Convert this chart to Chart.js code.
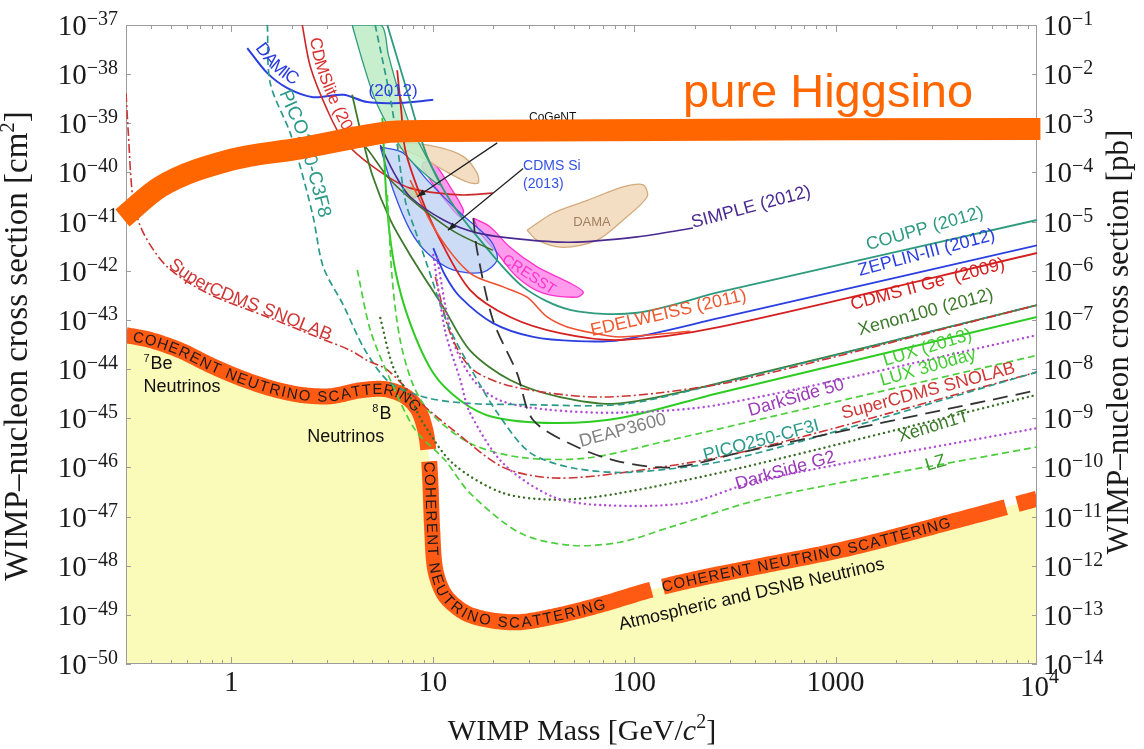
<!DOCTYPE html>
<html>
<head>
<meta charset="utf-8">
<title>WIMP-nucleon limits</title>
<script src="https://cdn.jsdelivr.net/npm/chart.js@4.4.1/dist/chart.umd.min.js"></script>
<style>
  body { margin: 0; background: #fff; }
  canvas { display: block; }
</style>
</head>
<body>
<canvas id="limits_chart" width="1144" height="749"></canvas>
<script>
var SERIF = '"Liberation Serif", "Times New Roman", serif';
var SANS = '"Liberation Sans", Arial, sans-serif';

// mass in GeV/c^2, cross section in cm^2

var higgsinoMass  = [0.288, 0.444, 0.99, 2.2, 4.9, 6.16, 10, 10400];
var higgsinoSigma = [1.18e-41, 5.1e-41, 1.8e-40, 3.1e-40, 5.8e-40, 6.7e-40, 7.0e-40, 7.7e-40];

var floorMass  = [0.30, 0.397, 0.558, 0.787, 1.108, 1.56, 2.2, 3.1, 4.37, 5.81, 7.3, 8.46, 9.18, 9.5, 9.72, 9.94, 10.3, 11.5, 14.5, 19.3, 27.2, 42.9, 67.9, 120, 213, 422, 1180, 3700, 10000];
var floorSigma = [4.9e-44, 3.9e-44, 2.4e-44, 1.2e-44, 6.6e-45, 4.1e-45, 3.0e-45, 2.8e-45, 3.7e-45, 3.9e-45, 2.8e-45, 1.5e-45, 5.8e-46, 2.3e-46, 5.5e-47, 5.3e-48, 8.2e-49, 2.5e-49, 1.1e-49, 7.8e-50, 7.1e-50, 9.9e-50, 1.6e-49, 3.2e-49, 5.6e-49, 9.8e-49, 2.3e-48, 7.7e-48, 2.3e-47];

var couppMass  = [5.95, 7.46, 9.39, 12.2, 17.2, 28.1, 48.1, 103.5, 267, 10000];
var couppSigma = [1e-37, 4.5e-39, 2.1e-40, 2.7e-41, 4.2e-42, 4.7e-43, 1.6e-43, 1.4e-43, 3.7e-43, 1.08e-41];

var zeplinMass  = [10.06, 11.5, 13.7, 19.9, 31.5, 52.1, 85.2, 267, 10000];
var zeplinSigma = [2.9e-42, 8.2e-43, 2.9e-43, 8.6e-44, 4.5e-44, 3.7e-44, 3.9e-44, 1.1e-43, 3.3e-42];

var cdmsGeMass  = [6.66, 6.97, 7.30, 8.66, 10.9, 15.3, 24.2, 42.9, 85.2, 267, 10000];
var cdmsGeSigma = [1.2e-38, 1.9e-39, 2.9e-40, 3.5e-41, 4.2e-42, 4.1e-43, 1.15e-43, 5.4e-44, 3.9e-44, 7.2e-44, 2.3e-42];

var edelweissMass  = [7.72, 10.5, 15.3, 22.4, 29.4, 37.0, 46.5, 62.7, 85.2, 190];
var edelweissSigma = [7.0e-41, 5.9e-42, 9.0e-43, 4.7e-43, 2.9e-43, 1.15e-43, 7.2e-44, 5.4e-44, 4.5e-44, 5.9e-44];

var xenon100Mass  = [3.98, 4.37, 5.01, 6.16, 7.72, 11.3, 15.3, 24.2, 42.9, 85.2, 336, 10000];
var xenon100Sigma = [3.8e-39, 7.3e-40, 8.9e-41, 1.08e-41, 2.1e-42, 1.8e-43, 2.4e-44, 6.0e-45, 2.7e-45, 2.0e-45, 6.6e-45, 2.0e-43];

var luxMass  = [5.62, 5.95, 6.51, 7.72, 10.06, 13.7, 19.9, 39.7, 85.2, 267, 10000];
var luxSigma = [1.3e-39, 1.7e-41, 1.04e-42, 8.6e-44, 8.3e-45, 2.3e-45, 1.06e-45, 8.0e-46, 1.01e-45, 3.3e-45, 1.15e-43];

var darkSide50Mass  = [10.5, 12.6, 15.9, 21.6, 37.0, 85.2, 267, 10000];
var darkSide50Sigma = [1.8e-42, 3.9e-44, 6.0e-45, 2.3e-45, 1.5e-45, 1.3e-45, 1.9e-45, 4.9e-44];

var lux300Mass  = [5.95, 6.30, 6.89, 8.0, 9.72, 15.3, 27.2, 58.5, 151, 473, 10000];
var lux300Sigma = [3.5e-41, 6.5e-43, 3.9e-44, 4.7e-45, 1.3e-45, 3.1e-46, 1.6e-46, 1.55e-46, 3.6e-46, 1.06e-45, 1.9e-44];

var superCdmsMass  = [0.30, 0.308, 0.326, 0.366, 0.481, 0.761, 1.51, 2.67, 3.90, 4.73, 5.95, 8.66, 12.6, 22.4, 39.7, 85.2, 336, 10000];
var superCdmsSigma = [4.1e-39, 6.4e-40, 2.7e-41, 5.9e-42, 1.2e-42, 3.5e-43, 1.15e-43, 4.5e-44, 2.4e-44, 1.5e-44, 9.6e-45, 2.1e-45, 5.8e-46, 1.0e-46, 6.1e-47, 7.7e-47, 2.0e-46, 8.7e-45];

var superCdmsGeMass  = [10.3, 12.2, 15.3, 21.6, 37.0, 67.9, 135, 336, 10000];
var superCdmsGeSigma = [7.5e-43, 5.4e-44, 1.1e-44, 5.2e-45, 3.3e-45, 2.7e-45, 3.3e-45, 6.0e-45, 2.0e-43];

var picoC3F8Mass  = [1.51, 1.56, 1.96, 2.20, 2.55, 2.86, 3.60, 4.62, 6.16, 9.39, 15.3, 27.2, 85.2, 213, 10000];
var picoC3F8Sigma = [1e-37, 6.6e-39, 6.4e-40, 1.3e-40, 1.24e-41, 1.2e-42, 2.0e-43, 2.4e-44, 5.2e-45, 2.6e-45, 2.0e-45, 1.9e-45, 1.9e-45, 4.1e-45, 2.0e-43];

var picoCF3IMass  = [5.18, 6.30, 7.30, 8.18, 9.39, 11.8, 15.3, 20.9, 30.4, 49.8, 99, 336, 10000];
var picoCF3ISigma = [1e-37, 1.9e-39, 2.7e-41, 6.7e-42, 1.3e-42, 8.6e-44, 1.1e-44, 1.3e-45, 2.0e-46, 9.7e-47, 8.0e-47, 1.6e-46, 8.7e-45];

var deapMass  = [15.9, 16.6, 19.9, 26.2, 31.5, 52.1, 85.2, 156, 336, 10000];
var deapSigma = [1.18e-41, 2.6e-42, 1.0e-43, 8.3e-45, 9.2e-46, 2.6e-46, 1.3e-46, 1.0e-46, 2.0e-46, 3.7e-45];

var xenon1TMass  = [5.49, 6.36, 7.72, 8.96, 12.6, 22.4, 42.9, 85.2, 336, 10000];
var xenon1TSigma = [1.1e-43, 1.1e-44, 2.7e-45, 8.0e-46, 1.2e-46, 3.0e-47, 2.2e-47, 3.0e-47, 9.7e-47, 3.0e-45];

var darkSideG2Mass  = [10.06, 11.5, 13.7, 15.3, 22.4, 39.7, 70.3, 183, 422, 10000];
var darkSideG2Sigma = [2.1e-42, 6.2e-44, 6.0e-45, 1.3e-45, 1.2e-46, 2.5e-47, 1.7e-47, 1.9e-47, 5.5e-47, 6.3e-46];

var lzMass  = [4.22, 4.90, 6.16, 8.18, 11.5, 15.3, 27.2, 48.1, 85.2, 151, 473, 10000];
var lzSigma = [1.04e-42, 6.2e-44, 6.0e-45, 5.8e-46, 1.41e-46, 3.0e-47, 4.6e-48, 2.6e-48, 3.0e-48, 6.1e-48, 2.5e-47, 2.6e-46];

var simpleMass  = [5.49, 6.51, 7.72, 11.3, 16.6, 27.2, 48.1, 103.5, 196];
var simpleSigma = [3.6e-40, 8.9e-41, 3.2e-41, 1.08e-41, 5.9e-42, 4.4e-42, 3.8e-42, 4.9e-42, 7.4e-42];

var damicMass  = [1.20, 1.51, 1.90, 2.55, 3.60, 4.73, 6.89, 10.06];
var damicSigma = [3.4e-38, 1.05e-38, 5.2e-39, 3.4e-39, 3.8e-39, 2.7e-39, 2.6e-39, 3.0e-39];

var cdmsliteMass  = [2.25, 2.47, 2.99, 3.60, 5.07, 7.72, 13.7, 19.9];
var cdmsliteSigma = [1e-37, 1.4e-38, 1.9e-39, 4.6e-40, 1.3e-40, 4.8e-41, 3.5e-41, 3.8e-41];

var cogentLimitMass  = [4.37, 4.90, 6.16, 8.66, 12.9, 19.9];
var cogentLimitSigma = [4.6e-40, 2.5e-40, 7.0e-41, 2.0e-41, 6.1e-42, 2.6e-42];

// closed signal regions
var greenBandMass  = [3.98, 4.47, 5.18, 6.16, 7.72, 10.9, 9.18, 7.72, 6.73, 6.02, 5.55, 3.98];
var greenBandSigma = [1e-37, 1.9e-38, 3.0e-39, 7.3e-40, 1.8e-40, 5.6e-41, 2.3e-40, 9.2e-40, 4.8e-39, 2.5e-38, 1e-37, 1e-37];

var damaLowMass  = [6.66, 7.13, 10.5, 14.2, 16.6, 16.8, 14.8, 11.3, 8.66, 6.66];
var damaLowSigma = [3.3e-40, 4.0e-40, 3.3e-40, 2.1e-40, 9.7e-41, 6.1e-41, 6.4e-41, 1.12e-40, 2.1e-40, 3.3e-40];

var damaHighMass  = [29.4, 39.7, 58.5, 88.2, 110.8, 116, 88.2, 65.6, 44.4, 33.0, 29.4];
var damaHighSigma = [6.7e-42, 1.5e-41, 2.7e-41, 5.1e-41, 5.6e-41, 3.2e-41, 1.08e-41, 4.2e-42, 3.0e-42, 4.2e-42, 6.7e-42];

var cresstUpperMass  = [8.96, 10.06, 12.2, 14.2, 13.7, 11.8, 9.72, 8.87, 8.96];
var cresstUpperSigma = [1.6e-40, 1.6e-40, 5.1e-41, 1.7e-41, 1.24e-41, 2.4e-41, 7.0e-41, 1.3e-40, 1.6e-40];

var cresstLowerMass  = [15.9, 19.3, 24.2, 33.0, 48.1, 55.9, 52.1, 35.3, 26.2, 20.9, 17.2, 15.9];
var cresstLowerSigma = [1.18e-41, 7.8e-42, 3.0e-42, 1.2e-42, 5.6e-43, 3.7e-43, 2.9e-43, 3.5e-43, 7.5e-43, 2.3e-42, 5.9e-42, 1.18e-41];

var cdmsSiMass  = [5.49, 6.36, 7.72, 9.39, 12.6, 17.8, 20.9, 19.3, 13.7, 9.39, 7.13, 5.49];
var cdmsSiSigma = [3.3e-40, 4.4e-41, 6.7e-42, 2.3e-42, 1.04e-42, 9.4e-43, 1.7e-42, 4.2e-42, 1.5e-41, 7.0e-41, 2.5e-40, 3.3e-40];

var cogentSpotMass  = [7.13, 7.93, 8.56, 7.93, 7.13];
var cogentSpotSigma = [4.4e-41, 5.1e-41, 3.8e-41, 3.0e-41, 4.4e-41];

// pointer arrows (tail, head)
var cogentArrowMass  = [20.9, 8.37];
var cogentArrowSigma = [4.0e-40, 3.2e-41];
var cdmsSiArrowMass  = [28.1, 11.9];
var cdmsSiArrowSigma = [1.2e-40, 6.7e-42];

var leftExponents  = [-37, -38, -39, -40, -41, -42, -43, -44, -45, -46, -47, -48, -49, -50];
var rightExponents = [-1, -2, -3, -4, -5, -6, -7, -8, -9, -10, -11, -12, -13, -14];
var massTicks = [1, 10, 100, 1000];

function pairs(m, s) {
  return m.map(function (v, i) { return { x: v, y: s[i] }; });
}

var DOTS = { width: 2.4, dash: [0.1, 5], cap: 'round' };
var DASH = { width: 1.7, dash: [7, 4] };
var DASHDOT = { width: 1.6, dash: [9, 3, 2, 3] };

function limitLine(label, m, s, colour, style) {
  style = style || {};
  return {
    label: label, data: pairs(m, s), borderColor: colour,
    borderWidth: style.width || 1.6, borderDash: style.dash || [],
    borderCapStyle: style.cap || 'butt', pointRadius: 0, fill: false,
    tension: 0.3, order: 5
  };
}

function region(label, m, s, line, inside) {
  return {
    label: label, data: pairs(m, s), borderColor: line, backgroundColor: inside,
    borderWidth: 1.3, pointRadius: 0, fill: 'shape', tension: 0.3, order: 7
  };
}

var datasets = [
  {
    label: 'neutrino floor', data: pairs(floorMass, floorSigma), borderWidth: 0,
    borderColor: 'rgba(0,0,0,0)', backgroundColor: '#fafab9', fill: 'start',
    pointRadius: 0, tension: 0.3, order: 10
  },
  region('green band', greenBandMass, greenBandSigma, '#2e9a7e', 'rgba(190,236,196,0.85)'),
  region('DAMA', damaLowMass, damaLowSigma, '#d2aa7c', 'rgba(243,220,192,0.95)'),
  region('DAMA high', damaHighMass, damaHighSigma, '#d2aa7c', 'rgba(243,220,192,0.95)'),
  region('CDMS Si', cdmsSiMass, cdmsSiSigma, '#3350e6', 'rgba(170,196,240,0.6)'),
  region('CRESST', cresstUpperMass, cresstUpperSigma, '#ff33cc', 'rgba(255,120,230,0.75)'),
  region('CRESST low', cresstLowerMass, cresstLowerSigma, '#ff33cc', 'rgba(255,120,230,0.75)'),
  region('CoGeNT', cogentSpotMass, cogentSpotSigma, '#e0c020', 'rgba(245,230,60,0.9)'),
  limitLine('LZ', lzMass, lzSigma, '#4ccf3c', DASH),
  limitLine('DarkSide G2', darkSideG2Mass, darkSideG2Sigma, '#b04cd6', DOTS),
  limitLine('Xenon1T', xenon1TMass, xenon1TSigma, '#3a6e26', DOTS),
  limitLine('DEAP3600', deapMass, deapSigma, '#333333', { width: 1.8, dash: [15, 8] }),
  limitLine('PICO250-CF3I', picoCF3IMass, picoCF3ISigma, '#2a9a8a', DASH),
  limitLine('SuperCDMS SNOLAB', superCdmsMass, superCdmsSigma, '#cc3333', DASHDOT),
  limitLine('SuperCDMS SNOLAB Ge', superCdmsGeMass, superCdmsGeSigma, '#cc3333', DASHDOT),
  limitLine('PICO250-C3F8', picoC3F8Mass, picoC3F8Sigma, '#2a9a8a', DASH),
  limitLine('LUX 300day', lux300Mass, lux300Sigma, '#4ccf3c', DASH),
  limitLine('DarkSide 50', darkSide50Mass, darkSide50Sigma, '#b04cd6', DOTS),
  limitLine('LUX (2013)', luxMass, luxSigma, '#2ecc22', { width: 2 }),
  limitLine('Xenon100 (2012)', xenon100Mass, xenon100Sigma, '#3d7a2b', { width: 1.8 }),
  limitLine('CoGeNT limit', cogentLimitMass, cogentLimitSigma, '#3d6e2a'),
  limitLine('SIMPLE (2012)', simpleMass, simpleSigma, '#4a2a92'),
  limitLine('EDELWEISS (2011)', edelweissMass, edelweissSigma, '#f05030'),
  limitLine('CDMS II Ge (2009)', cdmsGeMass, cdmsGeSigma, '#d42020', { width: 1.8 }),
  limitLine('ZEPLIN-III (2012)', zeplinMass, zeplinSigma, '#2b3fe0', { width: 1.8 }),
  limitLine('COUPP (2012)', couppMass, couppSigma, '#2e9a7e', { width: 1.8 }),
  limitLine('CDMSlite (2013)', cdmsliteMass, cdmsliteSigma, '#cc2a2a'),
  limitLine('DAMIC (2012)', damicMass, damicSigma, '#2b3fe0', { width: 2 }),
  {
    label: 'pure Higgsino', data: pairs(higgsinoMass, higgsinoSigma), borderColor: '#ff6600',
    borderWidth: 22, borderCapStyle: 'butt', pointRadius: 0, fill: false,
    cubicInterpolationMode: 'monotone', clip: false, order: 0
  }
];

// text along the neutrino floor band, plus the short breaks in it
var bandText = 'COHERENT NEUTRINO SCATTERING';
var bandTextRuns = [
  [[0.326, 4.9e-44], [8.46, 1.5e-45]],
  [[9.94, 1.3e-46], [71.8, 1.6e-49]],
  [[139, 4.0e-49], [3620, 7.7e-48]]
];
var bandBreaks = [[9.6, 1.78e-46], [129, 3.7e-49], [7610, 1.6e-47]];

var plotLabels = [
  { text: 'COUPP (2012)', at: [1450, 2.6e-42], angle: -16, size: 18, colour: '#2e9a7e' },
  { text: 'ZEPLIN-III (2012)', at: [1320, 7.8e-43], angle: -15, size: 18, colour: '#2b3fe0' },
  { text: 'CDMS II Ge  (2009)', at: [1210, 1.6e-43], angle: -15, size: 18, colour: '#d42020' },
  { text: 'Xenon100 (2012)', at: [1320, 4.9e-44], angle: -15, size: 18, colour: '#3d7a2b' },
  { text: 'LUX (2013)', at: [1760, 1.15e-44], angle: -17, size: 18, colour: '#44cc33' },
  { text: 'LUX 300day', at: [1700, 4.5e-45], angle: -16, size: 18, colour: '#44cc33' },
  { text: 'SuperCDMS SNOLAB', at: [1090, 9.6e-46], angle: -15, size: 18, colour: '#d03838' },
  { text: 'DarkSide 50', at: [376, 1.1e-45], angle: -16, size: 18, colour: '#9a3cb8' },
  { text: 'PICO250-CF3I', at: [225, 1.35e-46], angle: -15, size: 18, colour: '#2a9a8a' },
  { text: 'Xenon1T', at: [2090, 3.3e-46], angle: -17, size: 18, colour: '#3a7a2a' },
  { text: 'DarkSide G2', at: [325, 3.5e-47], angle: -16, size: 18, colour: '#9a3cb8' },
  { text: 'LZ', at: [2850, 8.4e-47], angle: -17, size: 18, colour: '#3a9a2a' },
  { text: 'DEAP3600', at: [54.5, 2.6e-46], angle: -15, size: 18, colour: '#808080' },
  { text: 'EDELWEISS (2011)', at: [61.7, 4.7e-44], angle: -13, size: 18, colour: '#f05a30' },
  { text: 'SIMPLE (2012)', at: [196, 7.4e-42], angle: -15, size: 18, colour: '#4a2a92' },
  { text: 'CRESST', at: [22.4, 1.8e-42], angle: 33, size: 15, colour: '#ff33cc', baseline: 'middle' },
  { text: 'DAMA', at: [61.7, 9.8e-42], size: 13, colour: '#a08060', align: 'center', baseline: 'middle' },
  { text: '(2012)', at: [6.36, 4.5e-39], size: 17, colour: '#2b3fe0', align: 'center', baseline: 'middle' },
  { text: 'CoGeNT', at: [39.4, 1.28e-39], size: 12, colour: '#111111', align: 'center', baseline: 'middle' },
  { text: 'CDMS Si', at: [28.1, 1.12e-40], size: 14, colour: '#3350e6' },
  { text: '(2013)', at: [28.1, 4.8e-41], size: 14, colour: '#3350e6' },
  { text: 'Be', sup: '7', at: [0.366, 1.0e-44], size: 18, colour: '#111111' },
  { text: 'Neutrinos', at: [0.366, 3.4e-45], size: 18, colour: '#111111' },
  { text: 'B', sup: '8', at: [5.01, 9.6e-46], size: 18, colour: '#111111' },
  { text: 'Neutrinos', at: [2.38, 3.3e-46], size: 18, colour: '#111111' },
  { text: 'Atmospheric and DSNB Neutrinos', at: [85.2, 4.9e-50], angle: -13, size: 18, colour: '#111111' }
];

// labels that follow their own curve
var pathLabels = [
  { text: 'SuperCDMS SNOLAB', line: 'SuperCDMS SNOLAB', from: [0.481, 1.2e-42], offset: 7, size: 18, colour: '#d03838' },
  { text: 'PICO250-C3F8', line: 'PICO250-C3F8', from: [1.57, 3.6e-39], offset: 12, size: 19, colour: '#2a9a8a' },
  { text: 'CDMSlite (2013)', line: 'CDMSlite (2013)', from: [2.36, 5e-38], offset: 11, size: 17, colour: '#dd3030' },
  { text: 'DAMIC', line: 'DAMIC (2012)', from: [1.24, 2.8e-38], offset: 12, size: 18, colour: '#2b3fe0' }
];

function toPx(chart, m, s) {
  return { x: chart.scales.x.getPixelForValue(m), y: chart.scales.y.getPixelForValue(s) };
}

function metaFor(chart, label) {
  var i = chart.data.datasets.findIndex(function (d) { return d.label === label; });
  return chart.getDatasetMeta(i);
}

// follow the bezier segments chart.js computed for a line
function samplePath(meta) {
  var pts = meta.data, out = [], s = 0;
  for (var i = 0; i < pts.length; i++) {
    var p = pts[i];
    if (i === 0) { out.push({ x: p.x, y: p.y, s: 0 }); continue; }
    var a = pts[i - 1];
    var c1x = a.cp2x === undefined ? a.x : a.cp2x, c1y = a.cp2y === undefined ? a.y : a.cp2y;
    var c2x = p.cp1x === undefined ? p.x : p.cp1x, c2y = p.cp1y === undefined ? p.y : p.cp1y;
    for (var k = 1; k <= 20; k++) {
      var t = k / 20, u = 1 - t;
      var x = u * u * u * a.x + 3 * u * u * t * c1x + 3 * u * t * t * c2x + t * t * t * p.x;
      var y = u * u * u * a.y + 3 * u * u * t * c1y + 3 * u * t * t * c2y + t * t * t * p.y;
      var last = out[out.length - 1];
      s += Math.hypot(x - last.x, y - last.y);
      out.push({ x: x, y: y, s: s });
    }
  }
  return out;
}

function pointAt(path, s) {
  s = Math.max(0, Math.min(s, path[path.length - 1].s));
  var i = 1;
  while (i < path.length - 1 && path[i].s < s) i++;
  var a = path[i - 1], b = path[i];
  var f = b.s > a.s ? (s - a.s) / (b.s - a.s) : 0;
  return { x: a.x + (b.x - a.x) * f, y: a.y + (b.y - a.y) * f };
}

function angleAt(path, s) {
  var p = pointAt(path, s - 5), q = pointAt(path, s + 5);
  return Math.atan2(q.y - p.y, q.x - p.x);
}

function nearestArc(path, pt) {
  var best = 0, bd = Infinity;
  path.forEach(function (p) {
    var d = (p.x - pt.x) * (p.x - pt.x) + (p.y - pt.y) * (p.y - pt.y);
    if (d < bd) { bd = d; best = p.s; }
  });
  return best;
}

function textOnPath(ctx, path, text, s0, s1, font, colour, offset) {
  ctx.save();
  ctx.font = font;
  ctx.fillStyle = colour;
  ctx.textAlign = 'center';
  ctx.textBaseline = 'middle';
  var chars = text.split('');
  var widths = chars.map(function (c) { return ctx.measureText(c).width; });
  var total = widths.reduce(function (a, b) { return a + b; }, 0);
  var gap = s1 == null ? 0 : (s1 - s0 - total) / (chars.length - 1);
  var s = s0;
  chars.forEach(function (c, i) {
    var mid = s + widths[i] / 2;
    var p = pointAt(path, mid), a = angleAt(path, mid);
    ctx.save();
    ctx.translate(p.x + Math.sin(a) * offset, p.y - Math.cos(a) * offset);
    ctx.rotate(a);
    ctx.fillText(c, 0, 1);
    ctx.restore();
    s += widths[i] + gap;
  });
  ctx.restore();
}

function drawFloorBand(chart, meta) {
  var ctx = chart.ctx, area = chart.chartArea;
  var path = samplePath(meta);
  var breaks = bandBreaks.map(function (b) { return nearestArc(path, toPx(chart, b[0], b[1])); })
    .sort(function (a, b) { return a - b; });
  var dash = [], pos = 0;
  breaks.forEach(function (g) { dash.push(Math.max(0.1, g - 6 - pos), 12); pos = g + 6; });
  dash.push(path[path.length - 1].s - pos + 60, 0.01);

  ctx.save();
  ctx.beginPath();
  ctx.rect(area.left, area.top, area.width, area.height);
  ctx.clip();
  ctx.strokeStyle = '#ff5a14';
  ctx.lineWidth = 16;
  ctx.lineJoin = 'round';
  ctx.setLineDash(dash);
  ctx.beginPath();
  path.forEach(function (p, i) { if (i) ctx.lineTo(p.x, p.y); else ctx.moveTo(p.x, p.y); });
  ctx.stroke();
  ctx.restore();

  bandTextRuns.forEach(function (run) {
    var s0 = nearestArc(path, toPx(chart, run[0][0], run[0][1]));
    var s1 = nearestArc(path, toPx(chart, run[1][0], run[1][1]));
    textOnPath(ctx, path, bandText, s0, s1, '15px ' + SANS, '#1a1a1a', 0);
  });
}

function drawFrame(chart) {
  var ctx = chart.ctx, a = chart.chartArea, xs = chart.scales.x, ys = chart.scales.y;
  ctx.save();
  ctx.strokeStyle = '#9c9c9c';
  ctx.lineWidth = 1;
  ctx.strokeRect(a.left + 0.5, a.top + 0.5, a.width - 1, a.height - 1);
  ctx.beginPath();
  for (var d = -1; d <= 3; d++) {
    for (var k = 1; k <= 9; k++) {
      var m = k * Math.pow(10, d);
      if (m < 0.3 || m > 10000) continue;
      var x = Math.round(xs.getPixelForValue(m)) + 0.5, len = k === 1 ? 7 : 4;
      ctx.moveTo(x, a.top); ctx.lineTo(x, a.top + len);
      ctx.moveTo(x, a.bottom); ctx.lineTo(x, a.bottom - len);
    }
  }
  leftExponents.forEach(function (e) {
    var y = Math.round(ys.getPixelForValue(Math.pow(10, e))) + 0.5;
    ctx.moveTo(a.left, y); ctx.lineTo(a.left + 5, y);
    ctx.moveTo(a.right, y); ctx.lineTo(a.right - 5, y);
  });
  ctx.stroke();
  ctx.restore();
}

function arrow(ctx, tail, head) {
  var ang = Math.atan2(head.y - tail.y, head.x - tail.x);
  ctx.save();
  ctx.strokeStyle = '#222';
  ctx.fillStyle = '#222';
  ctx.lineWidth = 1.3;
  ctx.beginPath();
  ctx.moveTo(tail.x, tail.y);
  ctx.lineTo(head.x, head.y);
  ctx.stroke();
  ctx.beginPath();
  ctx.moveTo(head.x, head.y);
  ctx.lineTo(head.x - 9 * Math.cos(ang - 0.35), head.y - 9 * Math.sin(ang - 0.35));
  ctx.lineTo(head.x - 9 * Math.cos(ang + 0.35), head.y - 9 * Math.sin(ang + 0.35));
  ctx.closePath();
  ctx.fill();
  ctx.restore();
}

function drawLabels(chart) {
  var ctx = chart.ctx;
  plotLabels.forEach(function (l) {
    var p = toPx(chart, l.at[0], l.at[1]);
    ctx.save();
    ctx.translate(p.x, p.y);
    ctx.rotate((l.angle || 0) * Math.PI / 180);
    ctx.fillStyle = l.colour;
    ctx.textAlign = l.align || 'left';
    ctx.textBaseline = l.baseline || 'alphabetic';
    var x = 0;
    if (l.sup) {
      ctx.font = Math.round(l.size * 0.62) + 'px ' + SANS;
      ctx.fillText(l.sup, 0, -l.size * 0.4);
      x = ctx.measureText(l.sup).width + 1;
    }
    ctx.font = l.size + 'px ' + SANS;
    ctx.fillText(l.text, x, 0);
    ctx.restore();
  });

  pathLabels.forEach(function (l) {
    var path = samplePath(metaFor(chart, l.line));
    var s0 = nearestArc(path, toPx(chart, l.from[0], l.from[1]));
    textOnPath(ctx, path, l.text, s0, null, l.size + 'px ' + SANS, l.colour, l.offset);
  });

  arrow(ctx, toPx(chart, cogentArrowMass[0], cogentArrowSigma[0]), toPx(chart, cogentArrowMass[1], cogentArrowSigma[1]));
  arrow(ctx, toPx(chart, cdmsSiArrowMass[0], cdmsSiArrowSigma[0]), toPx(chart, cdmsSiArrowMass[1], cdmsSiArrowSigma[1]));
}

function drawPow(ctx, x, y, exp, align) {
  var base = '10', sup = exp < 0 ? '\u2212' + (-exp) : String(exp);
  ctx.font = '29px ' + SERIF;
  var wb = ctx.measureText(base).width;
  ctx.font = '20px ' + SERIF;
  var ws = ctx.measureText(sup).width;
  var x0 = align === 'right' ? x - wb - ws : x;
  ctx.textAlign = 'left';
  ctx.textBaseline = 'alphabetic';
  ctx.font = '29px ' + SERIF;
  ctx.fillText(base, x0, y + 10);
  ctx.font = '20px ' + SERIF;
  ctx.fillText(sup, x0 + wb, y);
}

// pieces: [text, font, rise]
function drawTitle(ctx, pieces, cx, cy, rot) {
  ctx.save();
  ctx.translate(cx, cy);
  ctx.rotate(rot);
  ctx.textAlign = 'left';
  ctx.textBaseline = 'alphabetic';
  var total = 0;
  pieces.forEach(function (p) { ctx.font = p[1]; total += ctx.measureText(p[0]).width; });
  var x = -total / 2;
  pieces.forEach(function (p) {
    ctx.font = p[1];
    ctx.fillText(p[0], x, -(p[2] || 0));
    x += ctx.measureText(p[0]).width;
  });
  ctx.restore();
}

function drawAxes(chart) {
  var ctx = chart.ctx, a = chart.chartArea;
  ctx.save();
  ctx.fillStyle = '#1a1a1a';
  leftExponents.forEach(function (e) {
    drawPow(ctx, a.left - 8, chart.scales.y.getPixelForValue(Math.pow(10, e)), e, 'right');
  });
  rightExponents.forEach(function (e) {
    drawPow(ctx, a.right + 6, chart.scales.y2.getPixelForValue(Math.pow(10, e)), e, 'left');
  });
  ctx.font = '29px ' + SERIF;
  ctx.textAlign = 'center';
  ctx.textBaseline = 'alphabetic';
  massTicks.forEach(function (m) {
    ctx.fillText(String(m), chart.scales.x.getPixelForValue(m), a.bottom + 27);
  });
  var xr = chart.scales.x.getPixelForValue(10000);
  ctx.textAlign = 'left';
  ctx.fillText('10', xr - 17, a.bottom + 32);
  ctx.font = '20px ' + SERIF;
  ctx.fillText('4', xr + 12, a.bottom + 19);

  var small = '21px ' + SERIF;
  var leftBig = '33px ' + SERIF, rightBig = '31px ' + SERIF, bottomBig = '30px ' + SERIF;
  drawTitle(ctx, [['WIMP\u2013nucleon cross section [cm', leftBig], ['2', small, 13], [']', leftBig]], 27, 346, -Math.PI / 2);
  drawTitle(ctx, [['WIMP\u2013nucleon cross section [pb]', rightBig]], 1128, 342, -Math.PI / 2);
  drawTitle(ctx, [['WIMP Mass [GeV/', bottomBig], ['c', 'italic ' + bottomBig], ['2', '20px ' + SERIF, 12], [']', bottomBig]], 582, 740, 0);

  // model line annotation
  var h = toPx(chart, 175, 2.1e-39);
  ctx.font = '47px ' + SANS;
  ctx.fillStyle = '#ff6600';
  ctx.textAlign = 'left';
  ctx.fillText('pure Higgsino', h.x, h.y);
  ctx.restore();
}

var limitsPlugin = {
  id: 'limitsDecor',
  afterDatasetDraw: function (chart, args) {
    if (chart.data.datasets[args.index].label === 'neutrino floor') {
      drawFloorBand(chart, args.meta);
      drawFrame(chart);
    }
  },
  beforeDatasetDraw: function (chart, args) {
    if (chart.data.datasets[args.index].label === 'pure Higgsino') drawLabels(chart);
  },
  afterDraw: function (chart) { drawAxes(chart); }
};

var limitsChart = new Chart(document.getElementById('limits_chart'), {
  type: 'line',
  data: { datasets: datasets },
  options: {
    responsive: false,
    animation: false,
    layout: { padding: { left: 126, right: 107, top: 25, bottom: 85 } },
    plugins: { legend: { display: false }, tooltip: { enabled: false } },
    scales: {
      x: { type: 'logarithmic', min: 0.3, max: 10000, display: false },
      y: { type: 'logarithmic', min: 1e-50, max: 1e-37, display: false },
      y2: { type: 'logarithmic', position: 'right', min: 1e-14, max: 1e-1, display: false }
    }
  },
  plugins: [limitsPlugin]
});
</script>
</body>
</html>
